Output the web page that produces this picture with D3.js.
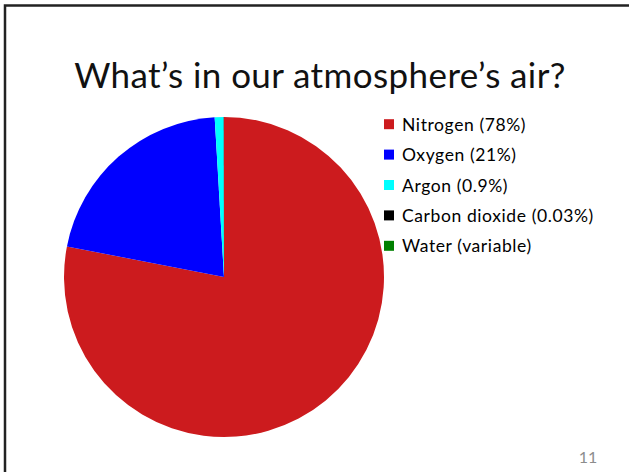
<!DOCTYPE html>
<html>
<head>
<meta charset="utf-8">
<script src="https://cdn.jsdelivr.net/npm/d3@7"></script>
<style>
  body { margin: 0; background: #fff; }
  text { font-family: Lato, "Open Sans", sans-serif; }
</style>
</head>
<body>
<div id="chart"></div>
<script>
var svgWidth = 629;
var svgHeight = 472;

// Data
var gases = ["Nitrogen", "Oxygen", "Argon", "Carbon dioxide", "Water"];
var shares = [78, 21, 0.9, 0.03, 0];
var legendLabels = ["Nitrogen (78%)", "Oxygen (21%)", "Argon (0.9%)", "Carbon dioxide (0.03%)", "Water (variable)"];
var colors = ["#cc1b1e", "#0000ff", "#00ffff", "#000000", "#008000"];

var svg = d3.select("#chart")
  .append("svg")
  .attr("width", svgWidth)
  .attr("height", svgHeight);

// slide frame (only top and left edges are visible in the crop)
svg.append("path")
  .attr("d", "M5,472 V5.5 H629")
  .attr("fill", "none")
  .attr("stroke", "#222")
  .attr("stroke-width", 2.5);

// Title
svg.append("text")
  .attr("x", 320)
  .attr("y", 88)
  .attr("text-anchor", "middle")
  .attr("font-size", 35)
  .attr("letter-spacing", 0.4)
  .attr("fill", "#111")
  .text("What\u2019s in our atmosphere\u2019s air?");

var data = gases.map(function(g, i) {
  return { name: g, value: shares[i], label: legendLabels[i], color: colors[i] };
});

var pie = d3.pie()
  .sort(null)
  .value(d => d.value);

var radius = 160;
var arc = d3.arc()
  .innerRadius(0)
  .outerRadius(radius);

var pieGroup = svg.append("g")
  .attr("transform", "translate(224, 277)");

pieGroup.selectAll("path")
  .data(pie(data))
  .enter()
  .append("path")
  .attr("d", arc)
  .attr("fill", d => d.data.color);

// Legend
var legendY = d3.scaleBand()
  .domain(gases)
  .range([109, 261]);

var legend = svg.append("g");

var rows = legend.selectAll("g")
  .data(data)
  .enter()
  .append("g")
  .attr("transform", d => `translate(384, ${legendY(d.name) + legendY.bandwidth() / 2})`);

rows.append("rect")
  .attr("x", 0)
  .attr("y", -5)
  .attr("width", 10)
  .attr("height", 10)
  .attr("fill", d => d.color);

rows.append("text")
  .attr("x", 18)
  .attr("y", 6.5)
  .attr("font-size", 17.5)
  .attr("letter-spacing", 0.6)
  .attr("fill", "#000")
  .text(d => d.label);

// page number
svg.append("text")
  .attr("x", 588)
  .attr("y", 463)
  .attr("text-anchor", "middle")
  .attr("font-size", 16)
  .attr("fill", "#8c8c8c")
  .text("11");
</script>
</body>
</html>
